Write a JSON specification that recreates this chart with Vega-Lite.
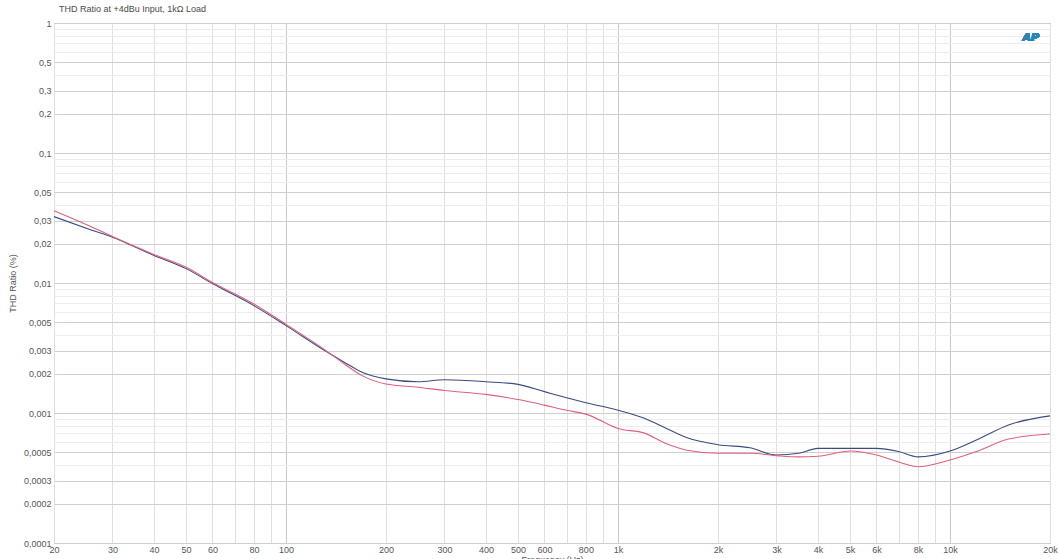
{
  "$schema": "https://vega.github.io/schema/vega-lite/v6.json",
  "width": 996,
  "height": 520,
  "autosize": {"type": "none"},
  "padding": {"left": 54, "top": 23, "right": 9, "bottom": 16},
  "background": "#ffffff",
  "title": {
    "text": "THD Ratio at +4dBu Input, 1kΩ Load",
    "anchor": "start",
    "frame": "group",
    "dx": 5,
    "offset": 5,
    "fontSize": 9,
    "fontWeight": "normal",
    "font": "Liberation Sans",
    "color": "#4a4a4a"
  },
  "data": {
    "values": [
      {"f": 20, "thd": 0.0324, "ch": "Left"},
      {"f": 26, "thd": 0.0255, "ch": "Left"},
      {"f": 30, "thd": 0.0225, "ch": "Left"},
      {"f": 40, "thd": 0.0163, "ch": "Left"},
      {"f": 50, "thd": 0.0129, "ch": "Left"},
      {"f": 60, "thd": 0.0099, "ch": "Left"},
      {"f": 80, "thd": 0.0067, "ch": "Left"},
      {"f": 100, "thd": 0.0047, "ch": "Left"},
      {"f": 130, "thd": 0.00305, "ch": "Left"},
      {"f": 150, "thd": 0.00245, "ch": "Left"},
      {"f": 170, "thd": 0.00205, "ch": "Left"},
      {"f": 200, "thd": 0.00183, "ch": "Left"},
      {"f": 250, "thd": 0.00174, "ch": "Left"},
      {"f": 300, "thd": 0.0018, "ch": "Left"},
      {"f": 400, "thd": 0.00174, "ch": "Left"},
      {"f": 500, "thd": 0.00166, "ch": "Left"},
      {"f": 600, "thd": 0.00146, "ch": "Left"},
      {"f": 700, "thd": 0.00131, "ch": "Left"},
      {"f": 800, "thd": 0.0012, "ch": "Left"},
      {"f": 1000, "thd": 0.00105, "ch": "Left"},
      {"f": 1200, "thd": 0.00091, "ch": "Left"},
      {"f": 1400, "thd": 0.00076, "ch": "Left"},
      {"f": 1600, "thd": 0.00065, "ch": "Left"},
      {"f": 2000, "thd": 0.00057, "ch": "Left"},
      {"f": 2500, "thd": 0.00054, "ch": "Left"},
      {"f": 3000, "thd": 0.000475, "ch": "Left"},
      {"f": 3500, "thd": 0.00049, "ch": "Left"},
      {"f": 4000, "thd": 0.000534, "ch": "Left"},
      {"f": 5000, "thd": 0.000534, "ch": "Left"},
      {"f": 6000, "thd": 0.000534, "ch": "Left"},
      {"f": 7000, "thd": 0.000505, "ch": "Left"},
      {"f": 8000, "thd": 0.00046, "ch": "Left"},
      {"f": 10000, "thd": 0.00051, "ch": "Left"},
      {"f": 12000, "thd": 0.00062, "ch": "Left"},
      {"f": 15000, "thd": 0.00081, "ch": "Left"},
      {"f": 20000, "thd": 0.00095, "ch": "Left"},
      {"f": 20, "thd": 0.036, "ch": "Right"},
      {"f": 26, "thd": 0.027, "ch": "Right"},
      {"f": 30, "thd": 0.0228, "ch": "Right"},
      {"f": 40, "thd": 0.0166, "ch": "Right"},
      {"f": 50, "thd": 0.0132, "ch": "Right"},
      {"f": 60, "thd": 0.0101, "ch": "Right"},
      {"f": 80, "thd": 0.0069, "ch": "Right"},
      {"f": 100, "thd": 0.0048, "ch": "Right"},
      {"f": 130, "thd": 0.0031, "ch": "Right"},
      {"f": 150, "thd": 0.00238, "ch": "Right"},
      {"f": 170, "thd": 0.00193, "ch": "Right"},
      {"f": 200, "thd": 0.00167, "ch": "Right"},
      {"f": 250, "thd": 0.00158, "ch": "Right"},
      {"f": 300, "thd": 0.00149, "ch": "Right"},
      {"f": 400, "thd": 0.00139, "ch": "Right"},
      {"f": 500, "thd": 0.00127, "ch": "Right"},
      {"f": 600, "thd": 0.00115, "ch": "Right"},
      {"f": 700, "thd": 0.00105, "ch": "Right"},
      {"f": 800, "thd": 0.00098, "ch": "Right"},
      {"f": 1000, "thd": 0.00076, "ch": "Right"},
      {"f": 1200, "thd": 0.0007, "ch": "Right"},
      {"f": 1400, "thd": 0.00058, "ch": "Right"},
      {"f": 1600, "thd": 0.00052, "ch": "Right"},
      {"f": 2000, "thd": 0.00049, "ch": "Right"},
      {"f": 2500, "thd": 0.00049, "ch": "Right"},
      {"f": 3000, "thd": 0.00047, "ch": "Right"},
      {"f": 3500, "thd": 0.00046, "ch": "Right"},
      {"f": 4000, "thd": 0.000465, "ch": "Right"},
      {"f": 5000, "thd": 0.00051, "ch": "Right"},
      {"f": 6000, "thd": 0.000475, "ch": "Right"},
      {"f": 7000, "thd": 0.00042, "ch": "Right"},
      {"f": 8000, "thd": 0.000386, "ch": "Right"},
      {"f": 10000, "thd": 0.000435, "ch": "Right"},
      {"f": 12000, "thd": 0.000505, "ch": "Right"},
      {"f": 15000, "thd": 0.00063, "ch": "Right"},
      {"f": 20000, "thd": 0.00069, "ch": "Right"}
    ]
  },
  "layer": [
    {
      "mark": {"type": "line", "interpolate": "monotone", "strokeWidth": 1.1},
      "encoding": {
        "x": {
          "field": "f",
          "type": "quantitative",
          "scale": {"type": "log", "domain": [20, 20000], "nice": false},
          "axis": {
            "title": "Frequency (Hz)",
            "titleFontSize": 9,
            "titleFontWeight": "normal",
            "titleColor": "#555555",
            "titlePadding": 1,
            "values": [20, 30, 40, 50, 60, 70, 80, 90, 100, 200, 300, 400, 500, 600, 700, 800, 900, 1000, 2000, 3000, 4000, 5000, 6000, 7000, 8000, 9000, 10000, 20000],
            "labelExpr": "indexof([20,30,40,50,60,80,100,200,300,400,500,600,800,1000,2000,3000,4000,5000,6000,8000,10000,20000], datum.value) >= 0 ? (datum.value >= 1000 ? (datum.value / 1000) + 'k' : '' + datum.value) : ''",
            "labelOverlap": false,
            "labelFlush": false,
            "labelFontSize": 9,
            "labelColor": "#555555",
            "labelPadding": 2,
            "ticks": false,
            "domain": false,
            "gridColor": {
              "condition": {"test": "indexof([100,1000,10000], datum.value) >= 0", "value": "#c8c8c8"},
              "value": "#e0e0e0"
            }
          }
        },
        "y": {
          "field": "thd",
          "type": "quantitative",
          "scale": {"type": "log", "domain": [0.0001, 1], "nice": false},
          "axis": {
            "title": "THD Ratio (%)",
            "titleFontSize": 9,
            "titleFontWeight": "normal",
            "titleColor": "#555555",
            "titlePadding": 6,
            "values": [0.0001, 0.0002, 0.0003, 0.0004, 0.0005, 0.0006, 0.0007, 0.0008, 0.0009, 0.001, 0.002, 0.003, 0.004, 0.005, 0.006, 0.007, 0.008, 0.009, 0.01, 0.02, 0.03, 0.04, 0.05, 0.06, 0.07, 0.08, 0.09, 0.1, 0.2, 0.3, 0.4, 0.5, 0.6, 0.7, 0.8, 0.9, 1],
            "labelExpr": "indexof([1,0.5,0.3,0.2,0.1,0.05,0.03,0.02,0.01,0.005,0.003,0.002,0.001,0.0005,0.0003,0.0002,0.0001], datum.value) >= 0 ? replace(toString(datum.value), '.', ',') : ''",
            "labelOverlap": false,
            "labelFlush": false,
            "labelFontSize": 9,
            "labelColor": "#555555",
            "labelPadding": 3,
            "ticks": false,
            "domain": false,
            "gridColor": {
              "condition": {"test": "indexof([1,0.5,0.3,0.2,0.1,0.05,0.03,0.02,0.01,0.005,0.003,0.002,0.001,0.0005,0.0003,0.0002,0.0001], datum.value) >= 0", "value": "#cfcfcf"},
              "value": "#ededed"
            }
          }
        },
        "color": {
          "field": "ch",
          "type": "nominal",
          "scale": {"domain": ["Left", "Right"], "range": ["#3b4b82", "#e0607a"]},
          "legend": null
        }
      }
    },
    {
      "mark": {"type": "text", "text": "AP", "fontSize": 11, "fontStyle": "italic", "fontWeight": "bold", "color": "#2b86b8", "font": "DejaVu Sans"},
      "encoding": {
        "x": {"datum": 17500, "type": "quantitative"},
        "y": {"datum": 0.77, "type": "quantitative"}
      }
    }
  ],
  "config": {
    "font": "Liberation Sans",
    "view": {"stroke": "#aaaaaa", "strokeWidth": 1}
  }
}
